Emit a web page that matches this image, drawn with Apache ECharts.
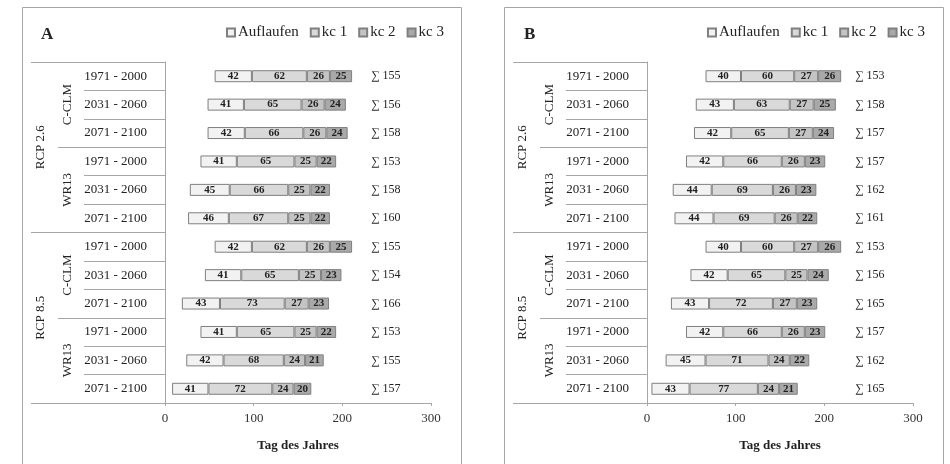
<!DOCTYPE html>
<html>
<head>
<meta charset="utf-8">
<script src="https://cdn.jsdelivr.net/npm/echarts@6/dist/echarts.min.js"></script>
<style>
html,body{margin:0;padding:0;background:#fff;}
#chart{width:950px;height:464px;}
</style>
</head>
<body>
<div id="chart"></div>
<script>
// ---- data ----
const periods = ['1971 - 2000','2031 - 2060','2071 - 2100','1971 - 2000','2031 - 2060','2071 - 2100',
                 '1971 - 2000','2031 - 2060','2071 - 2100','1971 - 2000','2031 - 2060','2071 - 2100'];
const models = ['C-CLM','WR13','C-CLM','WR13'];
const scenarios = ['RCP 2.6','RCP 8.5'];
const seriesNames = ['Auflaufen','kc 1','kc 2','kc 3'];
const xTicks = [0, 100, 200, 300];

// Panel A
const startA     = [56,48,48,40,28,26,56,45,19,40,24,8];
const auflaufenA = [42,41,42,41,45,46,42,41,43,41,42,41];
const kc1A       = [62,65,66,65,66,67,62,65,73,65,68,72];
const kc2A       = [26,26,26,25,25,25,26,25,27,25,24,24];
const kc3A       = [25,24,24,22,22,22,25,23,23,22,21,20];
const sumA       = [155,156,158,153,158,160,155,154,166,153,155,157];

// Panel B
const startB     = [66,55,53,44,29,31,66,49,27,44,21,5];
const auflaufenB = [40,43,42,42,44,44,40,42,43,42,45,43];
const kc1B       = [60,63,65,66,69,69,60,65,72,66,71,77];
const kc2B       = [27,27,27,26,26,26,27,25,27,26,24,24];
const kc3B       = [26,25,24,23,23,22,26,24,23,23,22,21];
const sumB       = [153,158,157,157,162,161,153,156,165,157,162,165];

// ---- styling ----
const FONT = "'Liberation Serif', 'DejaVu Serif', serif";
const LINE = '#a6a6a6';
const TXT = '#222';
const fills = ['#f2f2f2', '#d9d9d9', '#c4c4c4', '#a9a9a9'];
const BORDER = '#7f7f7f';

const panels = [
  {letter:'A', left:165, right:519, sumOffset:-60, legendRight:501, titleLeft:36, frameX:22.5,
   start:startA, vals:[auflaufenA,kc1A,kc2A,kc3A], sums:sumA},
  {letter:'B', left:647, right:37, sumOffset:-58, legendRight:20, titleLeft:519, frameX:504.5,
   start:startB, vals:[auflaufenB,kc1B,kc2B,kc3B], sums:sumB}
];

const grid = [], xAxis = [], yAxis = [], series = [], legend = [], title = [], graphic = [];

panels.forEach((p, gi) => {
  grid.push({left:p.left, right:p.right, top:62, bottom:61, containLabel:false});
  title.push({text:p.letter, left:p.titleLeft, top:21,
    textStyle:{fontFamily:FONT, fontSize:17, fontWeight:'bold', color:TXT}});
  legend.push({data:seriesNames, right:p.legendRight, top:20, itemWidth:8, itemHeight:8, itemGap:11,
    icon:'rect', textStyle:{fontFamily:FONT, fontSize:15, color:TXT, padding:[0,0,0,-2]}});
  graphic.push({type:'rect', shape:{x:p.frameX, y:7.5, width:439, height:480},
    style:{fill:'none', stroke:LINE, lineWidth:1}, silent:true});

  xAxis.push({type:'value', gridIndex:gi, min:0, max:300, interval:100,
    axisLine:{show:true, lineStyle:{color:LINE}},
    axisTick:{show:true, length:3, lineStyle:{color:LINE}},
    splitLine:{show:false},
    axisLabel:{fontFamily:FONT, fontSize:13, color:'#333', margin:9,
      formatter: v => xTicks.includes(v) ? String(v) : ''},
    name:'Tag des Jahres', nameLocation:'middle', nameGap:36,
    nameTextStyle:{fontFamily:FONT, fontSize:13, fontWeight:'bold', color:TXT}});

  const yBase = yAxis.length;
  // periods axis
  yAxis.push({type:'category', gridIndex:gi, data:periods, inverse:true, position:'left',
    axisLine:{show:true, lineStyle:{color:LINE}},
    axisTick:{show:true, interval:0, length:81, lineStyle:{color:LINE}},
    axisLabel:{interval:0, margin:18, fontFamily:FONT, fontSize:13, color:TXT}});
  // model axis
  yAxis.push({type:'category', gridIndex:gi, data:models, inverse:true, position:'left',
    axisLine:{show:false},
    axisTick:{show:true, interval:0, length:107, lineStyle:{color:LINE}},
    axisLabel:{interval:0, rotate:90, margin:91, fontFamily:FONT, fontSize:13, color:TXT}});
  // scenario axis
  yAxis.push({type:'category', gridIndex:gi, data:scenarios, inverse:true, position:'left',
    axisLine:{show:false},
    axisTick:{show:true, interval:0, length:134, lineStyle:{color:LINE}},
    axisLabel:{interval:0, rotate:90, margin:118, fontFamily:FONT, fontSize:13, color:TXT}});
  // sum axis
  yAxis.push({type:'category', gridIndex:gi, data:p.sums.map(s => '\u2211 ' + s), inverse:true,
    position:'right', offset:p.sumOffset,
    axisLine:{show:false}, axisTick:{show:false},
    axisLabel:{interval:0, margin:0, align:'left', fontFamily:FONT, fontSize:12, color:TXT,
      padding:[0,0,6,0]}});

  series.push({type:'bar', name:'base', xAxisIndex:gi, yAxisIndex:yBase, stack:'s'+gi,
    data:p.start, barWidth:12, silent:true,
    itemStyle:{color:'rgba(0,0,0,0)', borderWidth:0}, label:{show:false}, tooltip:{show:false}});
  seriesNames.forEach((n, si) => {
    series.push({type:'bar', name:n, xAxisIndex:gi, yAxisIndex:yBase, stack:'s'+gi,
      data:p.vals[si], barWidth:12,
      itemStyle:{color:fills[si], borderColor:BORDER, borderWidth:1},
      label:{show:true, position:'inside', fontFamily:FONT, fontSize:11, fontWeight:'bold', color:TXT}});
  });
});

const chart = echarts.init(document.getElementById('chart'), null, {renderer:'canvas'});
chart.setOption({
  animation:false,
  backgroundColor:'#fff',
  title, legend, grid, xAxis, yAxis, series, graphic
});
</script>
</body>
</html>
